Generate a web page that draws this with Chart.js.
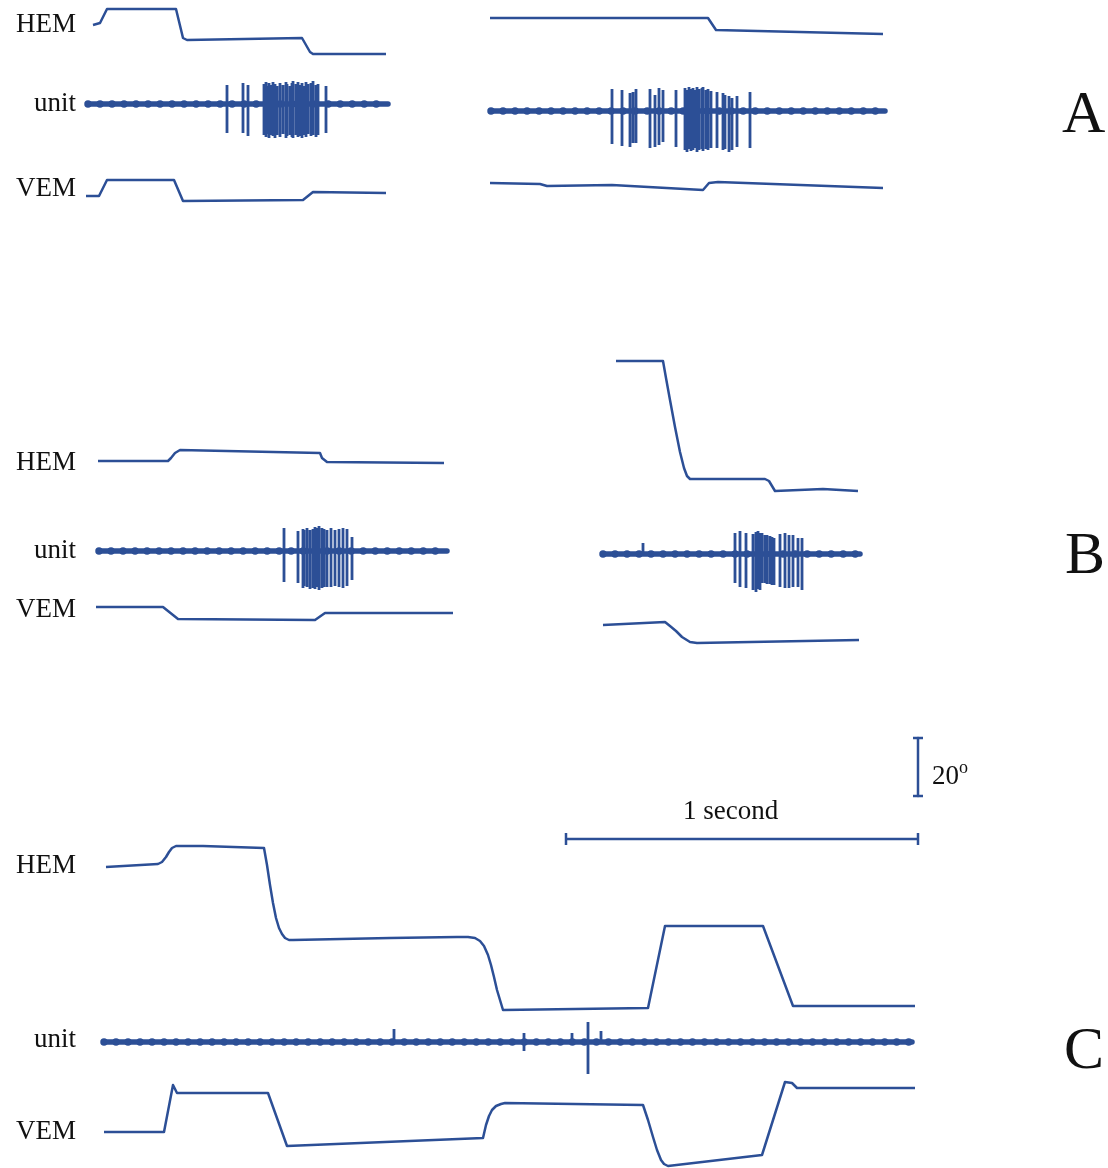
<!DOCTYPE html>
<html>
<head>
<meta charset="utf-8">
<script src="https://cdn.jsdelivr.net/npm/chart.js@4.4.1/dist/chart.umd.min.js"></script>
<style>
  body { margin: 0; background: #fff; }
  #wrap { position: relative; width: 1108px; height: 1168px; }
  #wrap canvas { position: absolute; left: 0; top: 0; }
  .lbl { position: absolute; font-family: "Liberation Serif", "Times New Roman", serif; color: #111; white-space: nowrap; line-height: 1; }
</style>
</head>
<body>
<div id="wrap"><canvas id="traces" width="1108" height="1168"></canvas></div>
<script>
(() => {
  // eye position traces, [x, y] in figure units (x = time, y = position)
  const hemA1 = [[93,25],[100,23],[107,9],[176,9],[183,38],[187,40],[302,38],[310,52],[313,54],[386,54]];
  const vemA1 = [[86,196],[99,196],[107,180],[174,180],[183,201],[303,200],[313,192],[386,193]];
  const hemA2 = [[490,18],[708,18],[716,30],[883,34]];
  const vemA2 = [[490,183],[540,184],[547,186],[612,185],[703,190],[709,183],[718,182],[883,188]];

  const hemB1 = [[98,461],[168,461],[171,458],[175,453],[180,450],[320,453],[322,458],[327,462],[444,463]];
  const vemB1 = [[96,607],[163,607],[178,619],[315,620],[325,613],[453,613]];
  const hemB2 = [[616,361],[663,361],[666,378],[670,400],[675,427],[680,452],[684,468],[687,476],[690,479],
                 [765,479],[769,481],[772,486],[775,491],[823,489],[858,491]];
  const vemB2 = [[603,625],[665,622],[670,626],[676,631],[682,637],[690,642],[697,643],[859,640]];

  const hemC = [[106,867],[158,864],[162,862],[166,857],[169,852],[172,848],[176,846],[203,846],[264,848],
                [267,865],[270,885],[273,903],[276,918],[279,928],[282,934],[285,938],[289,940],[293,940],
                [390,938],[457,937],[468,937],[475,938],[480,941],[484,946],[488,955],[491,965],[494,977],
                [497,990],[500,1000],[503,1010],[648,1008],[665,926],[763,926],[793,1006],[915,1006]];
  const vemC = [[104,1132],[164,1132],[173,1085],[177,1093],[268,1093],[287,1146],[483,1138],[486,1125],
                [489,1116],[492,1110],[496,1106],[501,1104],[505,1103],[643,1105],[648,1120],[653,1137],
                [657,1150],[661,1160],[664,1164],[668,1166],[762,1155],[785,1082],[792,1083],[797,1088],[915,1088]];

  // unit baselines [xStart, xEnd, y]
  const unitA1 = [88, 388, 104];
  const unitA2 = [491, 885, 111];
  const unitB1 = [99, 447, 551];
  const unitB2 = [603, 860, 554];
  const unitC = [104, 912, 1042];

  // spikes [x, top, bottom]
  const spikesA1 = [[227,85,133],[243,83,133],[248,85,136],[264,84,135],[266,82,137],[268,86,134],[269,83,138],
    [271,85,135],[273,82,136],[275,84,138],[277,86,135],[280,83,137],[283,85,134],[286,82,138],[287,84,136],
    [290,86,135],[292,83,137],[293,81,138],[296,84,135],[298,82,137],[300,85,136],[302,83,138],[304,86,135],
    [306,82,137],[308,84,134],[311,83,136],[313,81,135],[316,85,137],[318,84,135],[326,86,133]];
  const spikesA2 = [[612,89,144],[622,90,146],[630,93,147],[633,92,143],[636,89,143],[650,89,148],[655,95,147],
    [659,88,145],[663,90,142],[676,90,147],[685,88,150],[687,90,152],[689,87,149],[691,89,151],[693,88,150],
    [695,90,148],[697,87,152],[699,89,150],[702,88,149],[703,87,151],[706,90,149],[708,89,150],[711,91,148],
    [717,92,148],[723,93,150],[725,95,149],[729,96,152],[732,98,150],[737,96,147],[750,92,148]];
  const spikesB1 = [[284,528,582],[298,531,583],[303,529,588],[304,530,586],[307,528,587],[310,530,589],
    [313,529,588],[315,527,589],[317,528,587],[319,526,590],[322,528,588],[324,529,587],[327,530,587],
    [331,528,587],[335,530,586],[339,529,587],[343,528,588],[347,529,586],[352,537,580]];
  const spikesB2 = [[643,543,554],[735,533,583],[740,531,587],[746,533,588],[753,534,590],[756,532,592],
    [758,531,589],[760,533,590],[762,533,583],[765,535,583],[767,535,584],[770,536,584],[772,537,585],
    [774,538,585],[780,534,587],[785,533,588],[789,535,588],[793,535,587],[798,538,587],[802,538,590]];
  const spikesC = [[394,1029,1042],[524,1033,1051],[572,1033,1042],[588,1022,1074],[601,1031,1042]];

  // calibration bars: 1 second and 20 degrees
  const barTime = [[566,839],[918,839]];
  const barDeg = [[918,738],[918,796]];

  const blue = '#2c4f96';
  const pts = arr => arr.map(([x, y]) => ({ x, y }));
  const trace = (arr, w) => ({
    data: pts(arr), showLine: true, borderColor: blue, borderWidth: w || 2.5,
    pointRadius: 0, tension: 0, fill: false, borderJoinStyle: 'round', borderCapStyle: 'butt'
  });
  const spikes = arr => {
    const d = [];
    arr.forEach(([x, t, b]) => { d.push({ x, y: t }, { x, y: b }, { x, y: null }); });
    return { data: d, showLine: true, borderColor: blue, borderWidth: 2.8, pointRadius: 0, spanGaps: false };
  };
  const baseline = ([x0, x1, y]) => [
    { data: pts([[x0, y], [x1, y]]), showLine: true, borderColor: blue, borderWidth: 5.5, pointRadius: 0, borderCapStyle: 'round' },
    { data: pts([[x0, y], [x1, y]]), showLine: true, borderColor: blue, borderWidth: 7.5, pointRadius: 0,
      borderDash: [0.01, 12], borderCapStyle: 'round' }
  ];
  const caps = (arr, dx, dy) => {
    const d = [];
    arr.forEach(([x, y]) => { d.push({ x: x - dx, y: y - dy }, { x: x + dx, y: y + dy }, { x, y: null }); });
    return { data: d, showLine: true, borderColor: blue, borderWidth: 2.5, pointRadius: 0, spanGaps: false };
  };

  const datasets = [
    trace(hemA1), trace(vemA1), trace(hemA2), trace(vemA2),
    trace(hemB1), trace(vemB1), trace(hemB2), trace(vemB2),
    trace(hemC), trace(vemC),
    spikes(spikesA1), spikes(spikesA2), spikes(spikesB1), spikes(spikesB2), spikes(spikesC),
    ...baseline(unitA1), ...baseline(unitA2), ...baseline(unitB1), ...baseline(unitB2), ...baseline(unitC),
    trace(barTime), trace(barDeg), caps(barTime, 0, 6), caps(barDeg, 5, 0)
  ];

  new Chart(document.getElementById('traces'), {
    type: 'scatter',
    data: { datasets },
    options: {
      responsive: false,
      animation: false,
      events: [],
      layout: { padding: 0 },
      plugins: { legend: { display: false }, tooltip: { enabled: false } },
      scales: {
        x: { type: 'linear', min: 0, max: 1108, display: false },
        y: { type: 'linear', min: 0, max: 1168, reverse: true, display: false }
      }
    }
  });

  // text labels: [text, x, baseline, size, align]
  const labels = [
    ['HEM', 76, 33, 27, 'right'], ['unit', 76, 112, 27, 'right'], ['VEM', 76, 197, 27, 'right'],
    ['HEM', 76, 471, 27, 'right'], ['unit', 76, 559, 27, 'right'], ['VEM', 76, 618, 27, 'right'],
    ['HEM', 76, 874, 27, 'right'], ['unit', 76, 1048, 27, 'right'], ['VEM', 76, 1140, 27, 'right'],
    ['A', 1062, 132, 60, 'left'], ['B', 1065, 573, 60, 'left'], ['C', 1064, 1068, 60, 'left'],
    ['1 second', 683, 820, 27, 'left'], ['20<span style="font-size:18px;vertical-align:11px">o</span>', 932, 781, 27, 'left']
  ];
  const wrap = document.getElementById('wrap');
  labels.forEach(([text, x, base, size, align]) => {
    const el = document.createElement('div');
    el.className = 'lbl';
    el.innerHTML = text;
    el.style.fontSize = size + 'px';
    el.style.top = (base - size * 0.84) + 'px';
    if (align === 'right') el.style.right = (1108 - x) + 'px';
    else el.style.left = x + 'px';
    wrap.appendChild(el);
  });
})();
</script>
</body>
</html>
